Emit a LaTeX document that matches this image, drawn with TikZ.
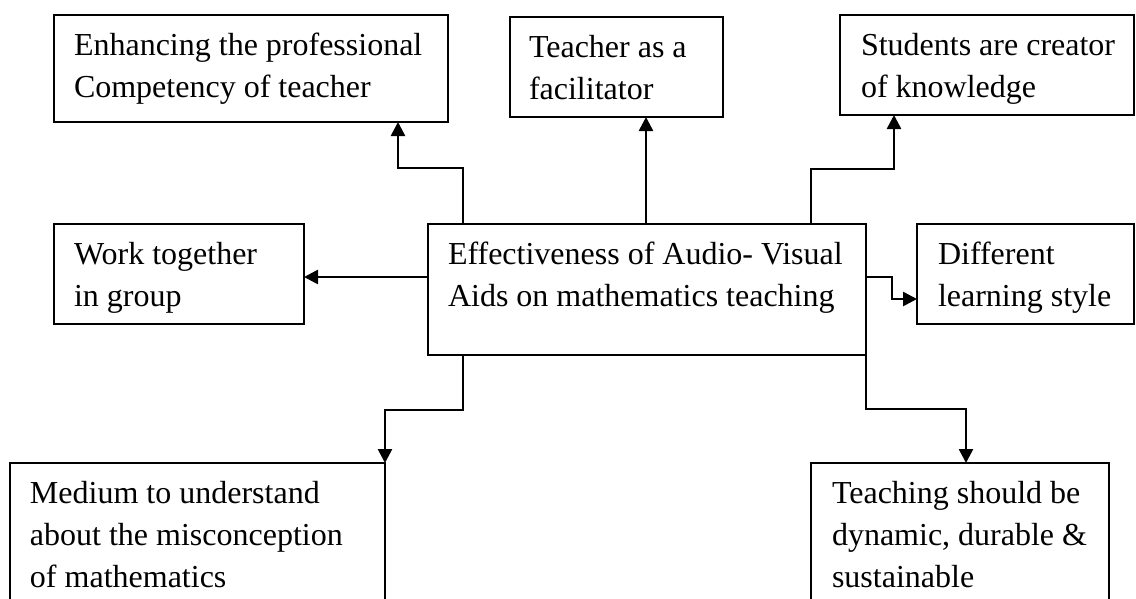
\documentclass[tikz,border=0pt]{standalone}
\usepackage{fontspec}
\setmainfont{Liberation Serif}
\usetikzlibrary{arrows.meta}
\tikzset{
  box/.style={draw, line width=1.6pt, anchor=north west, inner sep=0pt, outer sep=0pt},
  txt/.style={anchor=north west, inner sep=0pt, outer sep=0pt, font=\fontsize{32}{42}\selectfont},
  conn/.style={line width=2.6pt, -{Triangle[length=14pt,width=14pt]}},
}
\begin{document}
\begin{tikzpicture}[x=1pt,y=-1pt]
\useasboundingbox (0,0) rectangle (1136,598);
% boxes
\node[box, minimum width=394pt, minimum height=107pt] (A) at (54,15) {};
\node[box, minimum width=213pt, minimum height=100pt] (B) at (510,17) {};
\node[box, minimum width=294pt, minimum height=100pt] (C) at (840,15) {};
\node[box, minimum width=250pt, minimum height=100pt] (W) at (54,224) {};
\node[box, minimum width=438pt, minimum height=131pt] (M) at (428,224) {};
\node[box, minimum width=217pt, minimum height=100pt] (D) at (917,224) {};
\node[box, minimum width=375pt, minimum height=190pt] (E) at (10,463) {};
\node[box, minimum width=298pt, minimum height=190pt] (F) at (811,463) {};
% texts (first baseline = top + 40)
\node[txt] (At) at (74,25.6) {\begin{tabular}{@{}l@{}}Enhancing the professional\\Competency of teacher\end{tabular}};
\node[txt] (Bt) at (529,27.6) {\begin{tabular}{@{}l@{}}Teacher as a\\facilitator\end{tabular}};
\node[txt] (Ct) at (861,25.6) {\begin{tabular}{@{}l@{}}Students are creator\\of knowledge\end{tabular}};
\node[txt] (Wt) at (74,234.6) {\begin{tabular}{@{}l@{}}Work together\\in group\end{tabular}};
\node[txt] (Mt) at (448,234.6) {\begin{tabular}{@{}l@{}}Effectiveness of Audio- Visual\\Aids on mathematics teaching\end{tabular}};
\node[txt] (Dt) at (938,234.6) {\begin{tabular}{@{}l@{}}Different\\learning style\end{tabular}};
\node[txt] (Et) at (30,473.6) {\begin{tabular}{@{}l@{}}Medium to understand\\about the misconception\\of mathematics\end{tabular}};
\node[txt] (Ft) at (832,473.6) {\begin{tabular}{@{}l@{}}Teaching should be\\dynamic, durable \&\\sustainable\end{tabular}};
% connectors
\draw[conn] (463,0 |- M.north) -- (463,168) -| (398,0 |- A.south);
\draw[conn] (646,0 |- M.north) -- (646,0 |- B.south);
\draw[conn] (811,0 |- M.north) -- (811,169) -| (894,0 |- C.south);
\draw[conn] (M.west |- 0,277) -- (W.east |- 0,277);
\draw[conn] (M.east |- 0,277) -- (892,277) |- (D.west |- 0,299);
\draw[conn] (463,0 |- M.south) -- (463,410) -| (E.north east);
\draw[conn] (M.south east) -- (866,409) -| (966,0 |- F.north);
\end{tikzpicture}
\end{document}
